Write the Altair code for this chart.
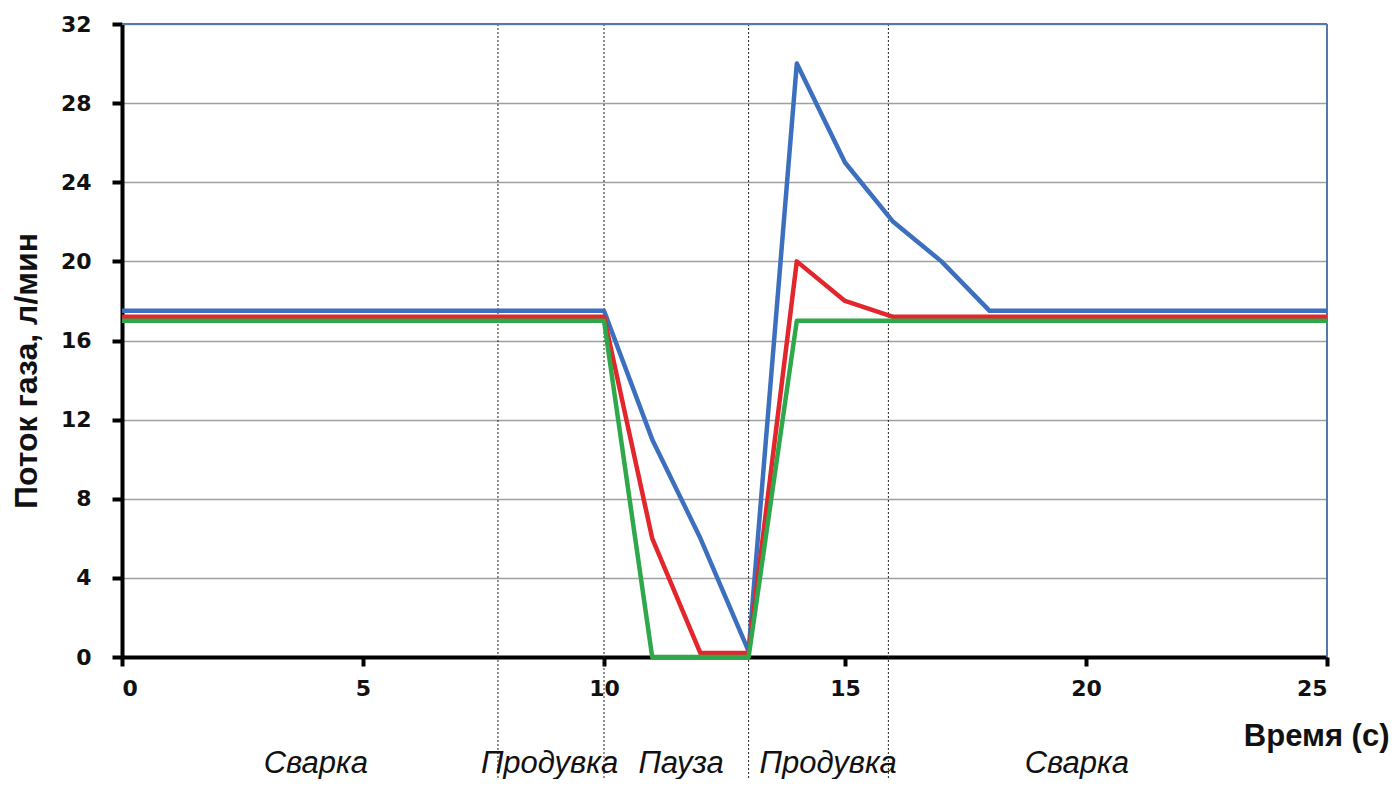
import altair as alt
import pandas as pd

# Series (time in s, gas flow in l/min)
blue_t = [0, 10, 11, 12, 13, 14, 15, 16, 17, 18, 25]
blue_v = [17.5, 17.5, 11, 6, 0.3, 30, 25, 22, 20, 17.5, 17.5]
red_t = [0, 10, 11, 12, 13, 14, 15, 16, 25]
red_v = [17.2, 17.2, 6, 0.2, 0.2, 20, 18, 17.2, 17.2]
green_t = [0, 10, 11, 12, 13, 14, 25]
green_v = [17.0, 17.0, 0, 0, 0, 17.0, 17.0]

# Phase boundaries and labels
bounds = [7.8, 10, 13, 15.9]
phase_names = ["Сварка", "Продувка", "Пауза", "Продувка", "Сварка"]
phase_x = [4.02, 8.87, 11.6, 14.65, 19.81]

rows = []
for name, ts, vs in [("blue", blue_t, blue_v), ("red", red_t, red_v), ("green", green_t, green_v)]:
    for t, v in zip(ts, vs):
        rows.append({"s": name, "t": t, "v": v})
df = pd.DataFrame(rows)

W, H = 1205, 633
xs = alt.Scale(domain=[0, 25], nice=False)
ys = alt.Scale(domain=[0, 32], nice=False)

colors = {"blue": "#3d6fbf", "red": "#e3262b", "green": "#2ea84a"}
border_color = "#5577aa"

base_x = alt.X("t:Q", scale=xs, axis=alt.Axis(
    values=[0, 5, 10, 15, 20, 25], grid=False, title="Время (с)",
    domainColor="black", domainWidth=4, tickColor="black", tickWidth=4, tickSize=9,
    labelFont="DejaVu Sans", labelFontWeight="bold", labelFontSize=22, labelColor="#111",
    labelPadding=12,
    titleFont="Liberation Sans", titleFontSize=31, titleFontWeight="bold", titleColor="#111",
    titleAnchor="end", titleAlign="right", titleX=1267, titleY=88, titleBaseline="alphabetic"))
base_y = alt.Y("v:Q", scale=ys, axis=alt.Axis(
    values=list(range(0, 33, 4)), grid=True, gridColor="#a0a0a0", gridWidth=1.5,
    title="Поток газа, л/мин",
    domainColor="black", domainWidth=4, tickColor="black", tickWidth=4, tickSize=10,
    labelFont="DejaVu Sans", labelFontWeight="bold", labelFontSize=22, labelColor="#111",
    labelPadding=21,
    titleFont="Liberation Sans", titleFontSize=32, titleFontWeight="bold", titleColor="#111",
    titleAngle=-90, titleX=-96, titleY=H / 2 + 30, titleAlign="center", titleBaseline="middle"))

layers = []
for name in ["blue", "red", "green"]:
    layers.append(
        alt.Chart(df[df.s == name]).mark_line(color=colors[name], strokeWidth=4.5, strokeJoin="round")
        .encode(x=base_x, y=base_y, order="t:Q")
    )

bdf = pd.DataFrame({"t": bounds})
rules = alt.Chart(bdf).mark_rule(color="#222", strokeWidth=1, strokeDash=[2, 2], clip=False).encode(
    x=alt.X("t:Q", scale=xs), y=alt.value(0), y2=alt.value(760))

# plot frame (top and right edges)
frame_top = alt.Chart(pd.DataFrame({"a": [0]})).mark_rule(color=border_color, strokeWidth=2).encode(
    x=alt.value(0), x2=alt.value(W), y=alt.value(0))
frame_right = alt.Chart(pd.DataFrame({"a": [0]})).mark_rule(color=border_color, strokeWidth=2).encode(
    x=alt.value(W), y=alt.value(0), y2=alt.value(H))

pdf = pd.DataFrame({"name": phase_names, "t": phase_x})
texts = alt.Chart(pdf).mark_text(font="Liberation Sans", fontStyle="italic", fontSize=31,
                                 color="#111", baseline="alphabetic", align="center", clip=False).encode(
    x=alt.X("t:Q", scale=xs), y=alt.value(749), text="name:N")

chart = alt.layer(rules, frame_top, frame_right, *layers, texts).properties(
    width=W, height=H,
    autosize=alt.AutoSizeParams(type="none"),
    padding={"left": 114, "top": 16, "right": 64, "bottom": 122},
).configure_view(stroke=None).configure(background="white")

chart.save("out.html", embed_options={"renderer": "svg", "actions": False})
